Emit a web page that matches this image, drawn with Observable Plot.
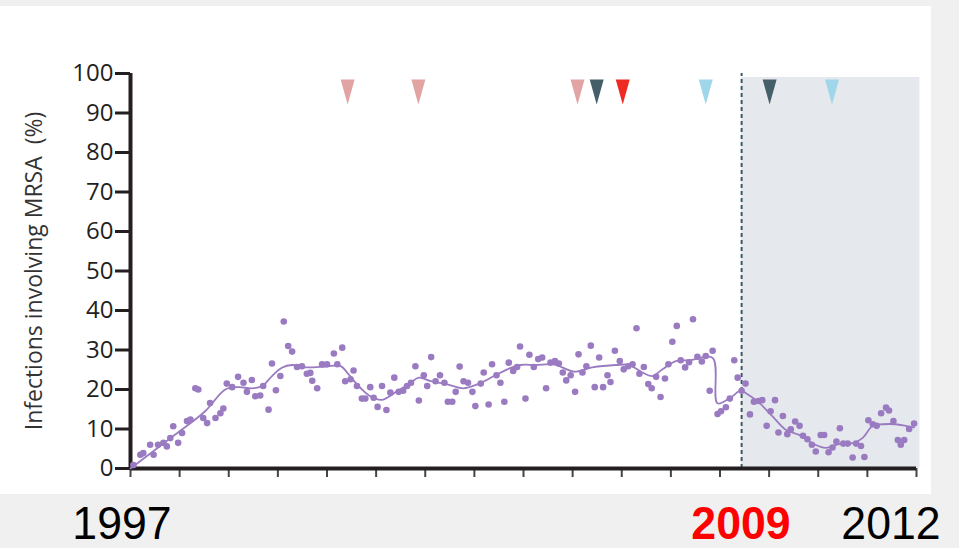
<!DOCTYPE html>
<html>
<head>
<meta charset="utf-8">
<script src="https://cdn.jsdelivr.net/npm/d3@7"></script>
<script src="https://cdn.jsdelivr.net/npm/@observablehq/plot@0.6"></script>
<style>
  html, body { margin: 0; padding: 0; }
  body { width: 959px; height: 548px; background: #f0f0f0; position: relative; overflow: hidden; font-family: "Liberation Sans", Arial, sans-serif; }
  #panel { position: absolute; left: 0; top: 6px; width: 931px; height: 488px; background: #ffffff; }
  #chart { position: absolute; left: 0; top: 6px; }
  .yr { position: absolute; top: 500px; font-size: 46px; line-height: 46px; white-space: nowrap; transform: translateX(-50%) scaleX(0.97); }
</style>
</head>
<body>
<div id="panel"></div>
<div id="chart"></div>
<script>
// Monthly observations (decimal year, % infections involving MRSA)
const pointYears = [
  1997.06,1997.20,1997.26,1997.40,1997.47,1997.56,1997.67,1997.74,1997.81,1997.87,1997.97,
  1998.05,1998.15,1998.22,1998.32,1998.38,1998.48,1998.56,1998.62,1998.73,1998.83,1998.89,1998.96,
  1999.07,1999.19,1999.30,1999.37,1999.47,1999.54,1999.64,1999.70,1999.81,1999.88,1999.96,
  2000.05,2000.12,2000.21,2000.29,2000.39,2000.49,2000.59,2000.66,2000.70,2000.80,2000.90,
  2001.00,2001.14,2001.21,2001.31,2001.37,2001.48,2001.54,2001.61,2001.71,2001.78,2001.88,2001.95,
  2002.03,2002.12,2002.21,2002.29,2002.37,2002.46,2002.55,2002.63,2002.71,2002.80,2002.87,2002.97,
  2003.04,2003.12,2003.21,2003.30,2003.39,2003.46,2003.55,2003.62,2003.70,2003.78,2003.87,2003.96,
  2004.02,2004.13,2004.19,2004.29,2004.36,2004.45,2004.53,2004.61,2004.70,2004.79,2004.87,2004.93,
  2005.04,2005.12,2005.21,2005.30,2005.38,2005.46,2005.55,2005.64,2005.72,2005.80,2005.87,2005.96,
  2006.05,2006.12,2006.20,2006.28,2006.37,2006.45,2006.54,2006.62,2006.71,2006.77,2006.86,2006.96,
  2007.04,2007.13,2007.22,2007.30,2007.36,2007.45,2007.54,2007.61,2007.70,2007.79,2007.88,2007.95,
  2008.03,2008.12,2008.20,2008.29,2008.37,2008.45,2008.54,2008.63,2008.71,2008.79,2008.85,2008.95,
  2009.02,2009.12,2009.20,2009.29,2009.36,2009.44,2009.52,2009.61,2009.69,2009.78,2009.86,2009.95,
  2010.03,2010.12,2010.19,2010.28,2010.37,2010.44,2010.53,2010.62,2010.69,2010.78,2010.87,2010.95,
  2011.05,2011.12,2011.21,2011.29,2011.37,2011.44,2011.51,2011.60,2011.70,2011.77,2011.87,2011.94,
  2012.02,2012.11,2012.19,2012.28,2012.38,2012.44,2012.53,2012.62,2012.68,2012.75,2012.85,2012.95
];
const pointValues = [
  0.9,3.5,3.9,6.0,3.5,6.0,6.5,5.6,7.7,10.7,6.5,
  9.0,12.0,12.4,20.3,20.0,12.8,11.5,16.6,12.8,14.0,15.2,21.5,
  20.6,23.2,21.7,19.4,22.4,18.3,18.5,20.9,14.9,26.6,19.8,
  23.4,37.2,31.0,29.6,25.7,25.9,24.0,24.2,22.2,20.3,26.4,
  26.4,29.1,26.4,30.6,22.1,22.6,24.8,20.9,17.7,17.7,20.6,17.9,
  15.6,20.9,14.8,19.2,23.0,19.4,19.7,20.9,21.7,25.9,17.2,23.6,
  20.9,28.2,22.1,23.6,21.7,16.9,16.9,19.4,25.8,22.1,21.7,19.4,
  15.8,21.5,24.3,16.2,26.4,23.6,21.7,16.9,26.8,24.7,25.7,30.9,
  17.7,28.8,25.7,27.7,28.1,20.3,26.8,27.2,26.6,24.3,22.3,23.6,
  19.4,28.9,24.3,25.9,31.1,20.6,28.1,20.6,23.6,21.9,29.8,27.2,
  25.1,25.9,26.4,35.5,24.0,25.7,21.4,20.3,23.2,18.1,22.8,26.4,
  32.1,36.1,27.4,25.6,26.9,37.8,28.3,27.1,28.5,19.7,29.8,13.8,
  14.5,15.5,17.7,27.4,23.0,19.7,21.5,13.7,16.9,17.1,17.3,10.8,
  14.5,17.3,9.1,13.3,8.7,9.9,11.9,10.8,8.3,7.4,6.0,4.3,
  8.5,8.5,4.1,5.3,6.8,10.2,6.3,6.3,2.8,6.3,5.7,2.9,
  12.2,11.2,10.8,14.0,15.4,14.7,12.0,7.2,6.0,7.2,10.0,11.4
];

// Smoothed trend (segmented)
const trendYears = [
  1997.00,1997.91,1998.52,1998.93,1999.20,1999.47,1999.68,1999.88,2000.08,2000.29,2000.56,2000.97,
  2001.27,2001.41,2001.61,2001.88,2002.12,2002.43,2002.70,2002.87,2003.11,2003.45,2003.78,2004.06,
  2004.40,2004.67,2004.94,2005.25,2005.59,2005.79,2006.03,2006.40,2006.88,2007.15,2007.42,2007.62,
  2007.83,2008.10,2008.37,2008.85,2008.95,2009.22,2009.42,2009.52,2009.80,2010.07,2010.34,2010.61,
  2010.88,2011.15,2011.43,2011.70,2011.90,2012.11,2012.31,2012.58,2012.78,2012.95
];
const trendValues = [
  0.0,8.6,14.5,20.0,20.6,20.3,20.9,23.4,25.5,26.2,25.6,25.8,
  26.0,24.3,21.3,18.3,17.4,19.6,21.7,23.0,22.1,21.3,20.3,21.3,
  23.4,25.1,26.2,26.2,26.4,25.6,24.5,25.6,26.2,26.2,24.3,23.4,
  25.1,27.2,27.4,28.0,16.5,18.0,19.7,19.1,16.6,13.2,9.8,8.5,
  6.4,5.2,6.2,6.4,7.7,10.8,11.2,11.2,10.8,10.4
];

// Event markers (top triangles)
const markerYears = [2001.42, 2002.86, 2006.10, 2006.49, 2007.02, 2008.71, 2010.01, 2011.28];
const markerKinds = ["pink", "pink", "pink", "dark", "red", "blue", "dark", "blue"];
const markerLevel = 95.3;
const kindColors = {pink: "#e2a3a3", dark: "#455f69", red: "#ee2a22", blue: "#9fd6e9"};

// Intervention
const interventionYear = 2009.44;
const shadeEnd = 2013.07;
const shadeTop = 99;

// Axes
const xTicks = [1997,1998,1999,2000,2001,2002,2003,2004,2005,2006,2007,2008,2009,2010,2011,2012,2013];
const yTicks = [0,10,20,30,40,50,60,70,80,90,100];
const yLabel = "Infections involving MRSA  (%)";

// Year labels under the chart
const yearLabelText = ["1997", "2009", "2012"];
const yearLabelAt = [1996.83, 2009.44, 2012.5];
const yearLabelColor = ["#000000", "#ff0000", "#000000"];
const yearLabelWeight = ["normal", "bold", "normal"];

const points = pointYears.map((x, i) => ({x, y: pointValues[i]}));
const trend = trendYears.map((x, i) => ({x, y: trendValues[i]}));
const markers = markerYears.map((x, i) => ({x, y: markerLevel, kind: markerKinds[i]}));

const downTriangle = {
  draw(context) {
    context.moveTo(-7, -12.5);
    context.lineTo(7, -12.5);
    context.lineTo(0, 12.5);
    context.closePath();
  }
};

const purple = "#9a7bc1";
const ink = "#231f20";

const plot = Plot.plot({
  width: 931,
  height: 488,
  marginLeft: 130,
  marginRight: 15,
  marginTop: 67,
  marginBottom: 26,
  style: {background: "transparent", fontFamily: "'Open Sans', sans-serif", overflow: "visible"},
  x: {domain: [1997, 2013], axis: null},
  y: {domain: [0, 100], axis: null},
  marks: [
    Plot.rect([{x1: interventionYear, x2: shadeEnd, y1: 0, y2: shadeTop}], {x1: "x1", x2: "x2", y1: "y1", y2: "y2", fill: "#e5e8ec"}),
    Plot.ruleX([interventionYear], {y1: 0, y2: 100, stroke: "#3d5a63", strokeWidth: 2, strokeDasharray: "4,3"}),
    Plot.axisX({ticks: xTicks, tickSize: 9, tickFormat: () => "", stroke: "#444", strokeWidth: 2, label: null}),
    Plot.axisY({ticks: yTicks, tickSize: 15, tickPadding: 2, strokeWidth: 3, stroke: ink, fill: ink, fontSize: 24, label: null}),
    Plot.ruleY([0], {stroke: ink, strokeWidth: 4}),
    Plot.ruleX([1997], {y1: 0, y2: 100, stroke: ink, strokeWidth: 4}),
    Plot.text([yLabel], {frameAnchor: "left", textAnchor: "middle", lineAnchor: "middle", rotate: -90, dx: -96, fontSize: 23, fill: "#333", fontFamily: "'Open Sans', sans-serif"}),
    Plot.line(trend, {x: "x", y: "y", stroke: purple, strokeWidth: 1.8, curve: "catmull-rom"}),
    Plot.dot(points, {x: "x", y: "y", r: 3.3, fill: purple, stroke: "none"}),
    Plot.dot(markers, {x: "x", y: "y", symbol: downTriangle, r: 5, fill: d => kindColors[d.kind], stroke: "none"})
  ]
});

document.getElementById("chart").appendChild(plot);

const xs = plot.scale("x");
yearLabelText.forEach((t, i) => {
  const div = document.createElement("div");
  div.className = "yr";
  div.textContent = t;
  div.style.left = xs.apply(yearLabelAt[i]) + "px";
  div.style.color = yearLabelColor[i];
  div.style.fontWeight = yearLabelWeight[i];
  document.body.appendChild(div);
});
</script>
</body>
</html>
